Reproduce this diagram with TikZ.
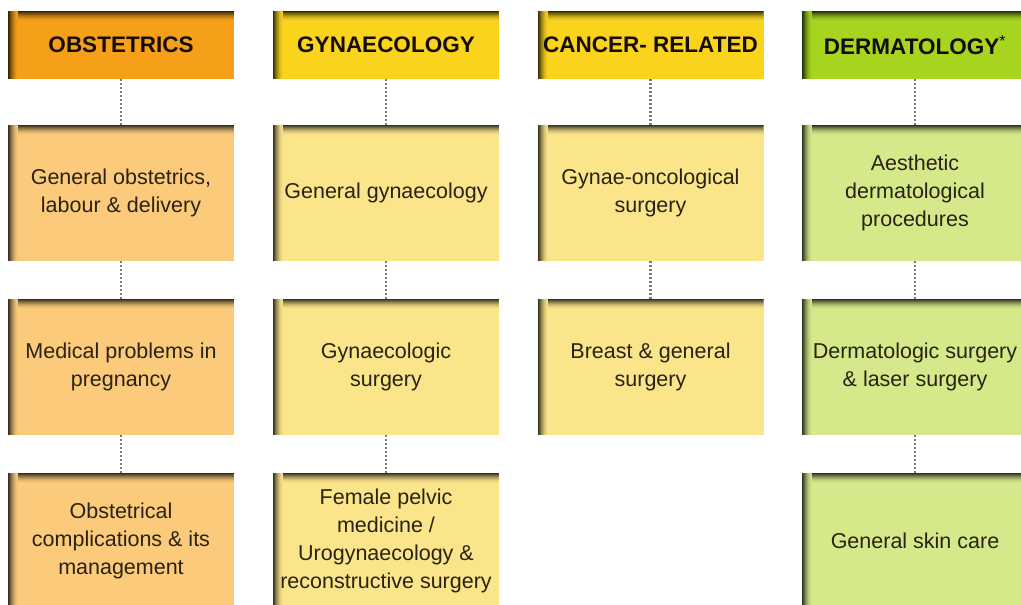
\documentclass[tikz,border=0pt]{standalone}
\usepackage{fontspec}
\setmainfont{Liberation Sans}
\definecolor{obsH}{HTML}{F6A01A}
\definecolor{obsB}{HTML}{FBCB7B}
\definecolor{gynH}{HTML}{F9D31C}
\definecolor{gynB}{HTML}{FBE58A}
\definecolor{derH}{HTML}{A6D41F}
\definecolor{derB}{HTML}{D5E98A}
\definecolor{txt}{HTML}{2A2212}
\definecolor{htxt}{HTML}{150D04}
\definecolor{dotc}{HTML}{7A7A7A}
\tikzset{
  panel/.style={draw=none, minimum width=226pt, inner sep=0pt, align=center,
    fill=#1, text=txt,
    path picture={
      \foreach \i/\p in {0/78,1/66,2/54,3/43,4/33,5/24,6/16,7/10,8/5,9/2} {
        \fill[black!\p!#1] ([yshift=-\i pt]path picture bounding box.north west) rectangle
          ([yshift=-\i pt-1pt]path picture bounding box.north east);
      }
      \foreach \i/\p in {0/78,1/66,2/54,3/43,4/33,5/24,6/16,7/10,8/5,9/2} {
        \fill[black!\p!#1] ([xshift=\i pt]path picture bounding box.north west) rectangle
          ([xshift=\i pt+1pt]path picture bounding box.south west);
      }
    }},
  header/.style={panel=#1, minimum height=68pt, text=htxt,
    font=\fontsize{22.5}{26}\selectfont\bfseries},
  item/.style={panel=#1, minimum height=136pt, font=\fontsize{21.5}{28}\selectfont},
  dotline/.style={draw=dotc, line width=2.2pt, dash pattern=on 2pt off 2pt}
}
\begin{document}
\begin{tikzpicture}[x=1pt,y=-1pt]
\clip (0,0) rectangle (1021,605);
\fill[white] (0,0) rectangle (1021,605);
% headers
\node[header=obsH] (h1) at (121,45) {OBSTETRICS};
\node[header=gynH] (h2) at (386,45) {GYNAECOLOGY};
\node[header=gynH] (h3) at (650.5,45) {CANCER- RELATED};
\node[header=derH] (h4) at (915,45) {DERMATOLOGY\textsuperscript{\mdseries*}};
% row 1
\node[item=obsB] (a1) at (121,193) {General obstetrics,\\labour \& delivery};
\node[item=gynB] (a2) at (386,193) {General gynaecology};
\node[item=gynB] (a3) at (650.5,193) {Gynae-oncological\\surgery};
\node[item=derB] (a4) at (915,193) {Aesthetic\\dermatological\\procedures};
% row 2
\node[item=obsB] (b1) at (121,367) {Medical problems in\\pregnancy};
\node[item=gynB] (b2) at (386,367) {Gynaecologic\\surgery};
\node[item=gynB] (b3) at (650.5,367) {Breast \& general\\surgery};
\node[item=derB] (b4) at (915,367) {Dermatologic surgery\\\& laser surgery};
% row 3
\node[item=obsB] (c1) at (121,541) {Obstetrical\\complications \& its\\management};
\node[item=gynB] (c2) at (386,541) {Female pelvic\\medicine /\\Urogynaecology \&\\reconstructive surgery};
\node[item=derB] (c4) at (915,541) {General skin care};
% connectors
\draw[dotline] (h1.south) -- (a1.north);
\draw[dotline] (a1.south) -- (b1.north);
\draw[dotline] (b1.south) -- (c1.north);
\draw[dotline] (h2.south) -- (a2.north);
\draw[dotline] (a2.south) -- (b2.north);
\draw[dotline] (b2.south) -- (c2.north);
\draw[dotline] (h3.south) -- (a3.north);
\draw[dotline] (a3.south) -- (b3.north);
\draw[dotline] (h4.south) -- (a4.north);
\draw[dotline] (a4.south) -- (b4.north);
\draw[dotline] (b4.south) -- (c4.north);
\end{tikzpicture}
\end{document}
